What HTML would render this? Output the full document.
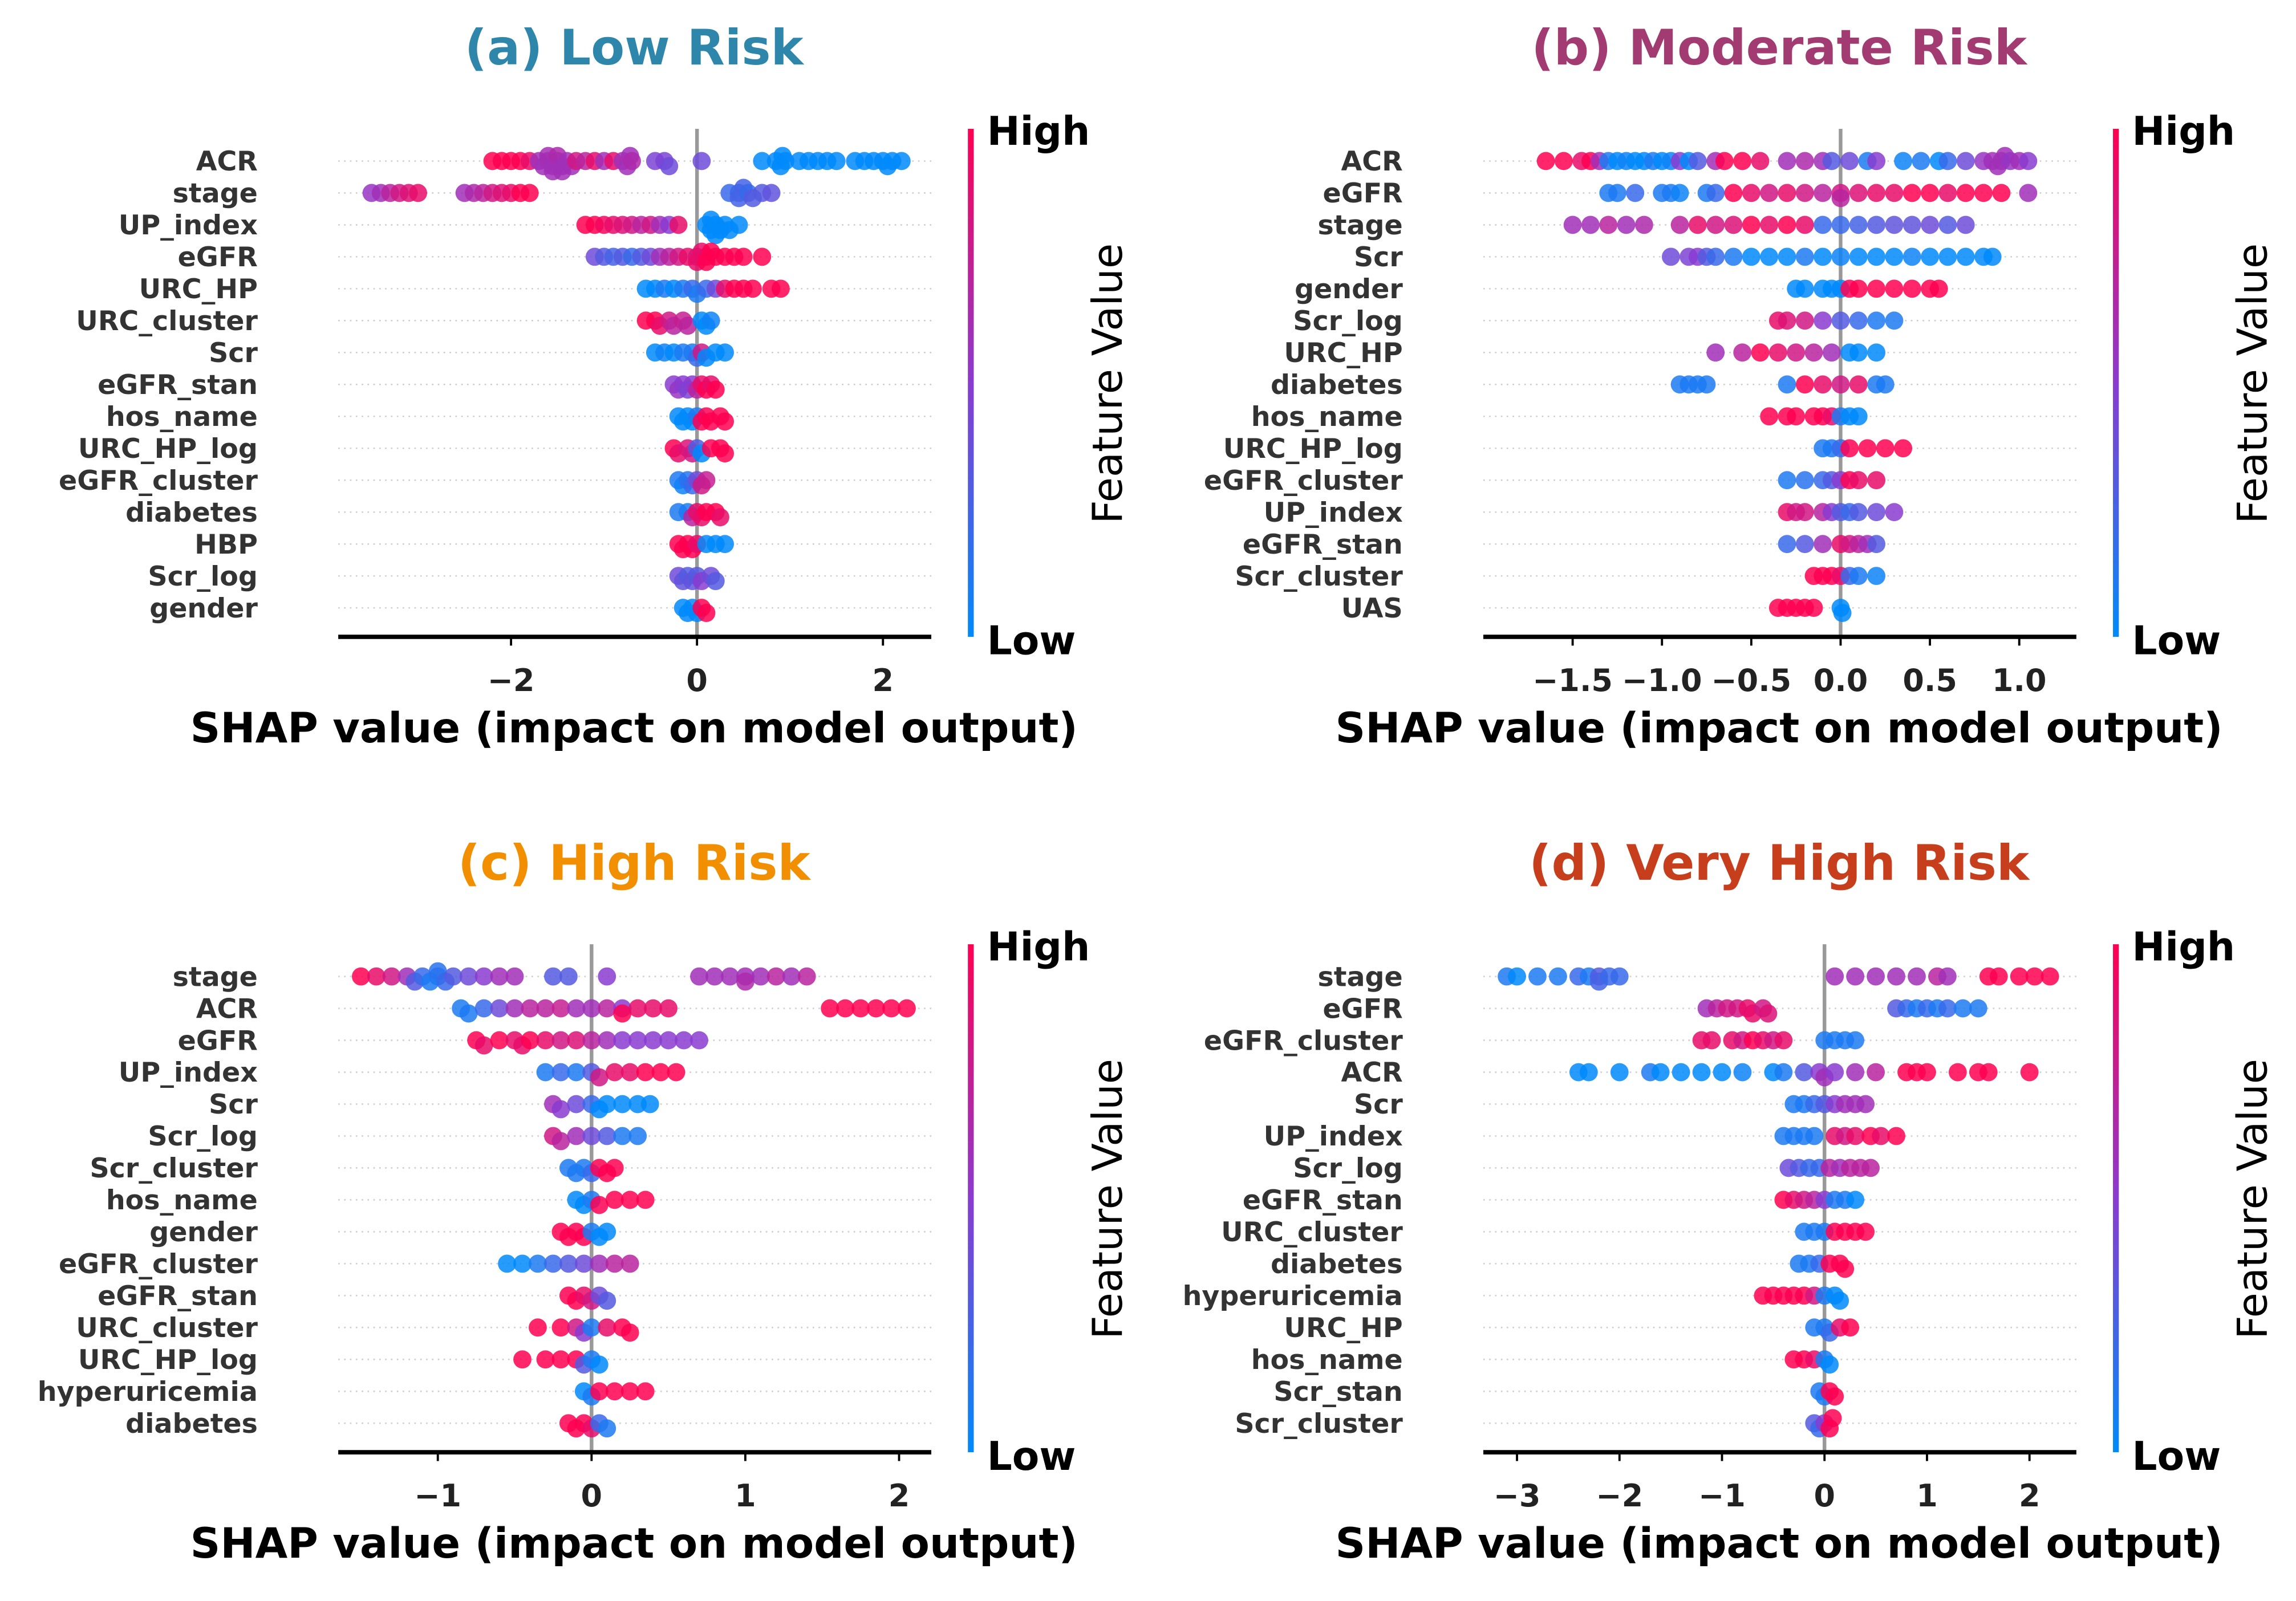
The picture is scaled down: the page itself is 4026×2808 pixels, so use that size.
<!DOCTYPE html>
<html><head><meta charset="utf-8">
<style>
html,body{margin:0;padding:0;background:#fff;}
svg{display:block;}
text{font-family:"DejaVu Sans","Liberation Sans",sans-serif;}
</style></head>
<body>
<svg id="fig" width="4026" height="2808" viewBox="0 0 1568 1093.6" xmlns="http://www.w3.org/2000/svg">
<defs>
<linearGradient id="cbar" x1="0" y1="1" x2="0" y2="0">
<stop offset="0" stop-color="#008afb"/><stop offset="0.5" stop-color="#8a3bd0"/><stop offset="1" stop-color="#ff0051"/>
</linearGradient>
</defs>
</svg>
<script>
// ---------- data ----------
const featuresA = ["ACR","stage","UP_index","eGFR","URC_HP","URC_cluster","Scr","eGFR_stan","hos_name","URC_HP_log","eGFR_cluster","diabetes","HBP","Scr_log","gender"];
const ticksA = [-2,0,2];
const pointsA = [
[[-2.2,1],[-2.1,1],[-2.0,1],[-1.9,1],[-1.8,0.9],[-1.7,0.6],[-1.65,0.6],[-1.6,0.6],[-1.6,0.62],[-1.55,0.6],[-1.55,0.6],[-1.5,0.6],[-1.5,0.65],[-1.45,0.6],[-1.45,0.6],[-1.4,0.6],[-1.35,0.6],[-1.3,0.8],[-1.2,0.7],[-1.1,0.9],[-1.0,0.6],[-0.9,0.9],[-0.8,0.6],[-0.75,0.6],[-0.7,0.65],[-0.72,0.6],[-0.45,0.45],[-0.35,0.45],[-0.3,0.4],[0.05,0.4],[0.7,0],[0.85,0],[0.9,0],[0.92,0],[0.95,0],[1.1,0],[1.2,0],[1.3,0],[1.4,0],[1.5,0],[1.7,0],[1.8,0],[1.9,0],[2.0,0],[2.05,0],[2.1,0],[2.2,0]],
[[-3.5,0.55],[-3.4,0.6],[-3.3,0.7],[-3.2,0.8],[-3.1,0.85],[-3.0,0.9],[-2.5,0.6],[-2.4,0.65],[-2.3,0.7],[-2.2,0.8],[-2.1,0.85],[-2.0,0.9],[-1.9,1],[-1.8,1],[0.35,0.2],[0.45,0.2],[0.45,0.25],[0.5,0.25],[0.55,0.2],[0.6,0.3],[0.7,0.3],[0.8,0.35]],
[[-1.2,1],[-1.1,1],[-1.0,0.95],[-0.9,0.9],[-0.8,0.85],[-0.7,0.8],[-0.6,0.7],[-0.5,0.8],[-0.4,0.6],[-0.3,0.5],[-0.2,0.9],[0.1,0],[0.15,0],[0.15,0],[0.2,0],[0.2,0],[0.25,0],[0.3,0],[0.35,0],[0.45,0]],
[[-1.1,0.4],[-1.0,0.3],[-0.9,0.25],[-0.8,0.3],[-0.7,0.2],[-0.6,0.3],[-0.5,0.4],[-0.4,0.6],[-0.3,0.7],[-0.2,0.8],[-0.1,0.9],[0,0.85],[0,0.9],[0.05,0.9],[0.1,0.9],[0.1,1],[0.15,1],[0.2,1],[0.3,1],[0.4,1],[0.5,1],[0.7,1]],
[[-0.55,0],[-0.45,0],[-0.35,0.1],[-0.25,0],[-0.15,0.1],[-0.05,0.2],[0,0.1],[0.1,0.2],[0.2,0.4],[0.3,0.9],[0.4,1],[0.5,1],[0.6,1],[0.8,1],[0.9,1]],
[[-0.55,1],[-0.45,1],[-0.4,0.9],[-0.3,0.8],[-0.25,0.7],[-0.15,0.75],[-0.1,0.7],[0.05,0],[0.1,0],[0.15,0.05]],
[[-0.45,0],[-0.35,0.05],[-0.25,0],[-0.15,0.1],[-0.05,0.1],[0.0,0.2],[0.05,0.8],[0.1,0],[0.2,0],[0.3,0]],
[[-0.25,0.5],[-0.2,0.55],[-0.15,0.5],[-0.1,0.45],[-0.05,0.5],[0,0.7],[0.05,0.9],[0.1,1],[0.15,0.9],[0.2,1]],
[[-0.2,0],[-0.15,0],[-0.1,0],[-0.05,0],[0,0.1],[0.05,1],[0.1,1],[0.15,1],[0.25,1],[0.3,1]],
[[-0.25,1],[-0.2,0.9],[-0.1,0.85],[-0.05,0.8],[0.0,0.3],[0.05,0],[0.15,1],[0.25,1],[0.3,1]],
[[-0.2,0.1],[-0.15,0.05],[-0.1,0.15],[-0.05,0.2],[0,0.4],[0.05,0.8],[0.1,0.75]],
[[-0.2,0.1],[-0.1,0.1],[-0.05,0.7],[0,0.9],[0.05,0.9],[0.1,1],[0.2,1],[0.25,0.9]],
[[-0.2,1],[-0.15,1],[-0.1,1],[-0.05,1],[0,0.9],[0.1,0],[0.2,0],[0.3,0]],
[[-0.2,0.4],[-0.15,0.35],[-0.1,0.3],[-0.05,0.35],[0,0.3],[0.05,0.5],[0.15,0.4],[0.2,0.3]],
[[-0.15,0],[-0.1,0],[-0.05,0],[0,0],[0.05,1],[0.1,1]]
];
const featuresB = ["ACR","eGFR","stage","Scr","gender","Scr_log","URC_HP","diabetes","hos_name","URC_HP_log","eGFR_cluster","UP_index","eGFR_stan","Scr_cluster","UAS"];
const ticksB = [-1.5,-1.0,-0.5,0.0,0.5,1.0];
const pointsB = [
[[-1.65,1],[-1.55,1],[-1.45,0.9],[-1.4,1],[-1.35,0.6],[-1.3,0.1],[-1.25,0],[-1.2,0.05],[-1.15,0],[-1.1,0],[-1.05,0.1],[-1.0,0],[-0.95,0.05],[-0.9,0.5],[-0.85,0],[-0.8,0.3],[-0.7,0.6],[-0.65,1],[-0.55,1],[-0.45,0.9],[-0.3,0.6],[-0.2,0.65],[-0.1,0.6],[-0.05,0.3],[0.05,0.4],[0.15,0.1],[0.2,0.5],[0.35,0.05],[0.45,0.1],[0.55,0],[0.6,0.2],[0.7,0.4],[0.8,0.55],[0.85,0.6],[0.88,0.6],[0.9,0.6],[0.92,0.6],[0.95,0.55],[1.0,0.6],[1.05,0.5]],
[[-1.3,0.1],[-1.25,0.1],[-1.15,0.2],[-1.0,0.1],[-0.95,0.1],[-0.9,0.05],[-0.75,0.1],[-0.7,0.2],[-0.6,1],[-0.5,0.9],[-0.4,0.8],[-0.3,0.9],[-0.2,0.8],[-0.1,0.7],[0,0.8],[0,0.7],[0.1,0.85],[0.2,0.9],[0.3,0.9],[0.4,1],[0.5,1],[0.6,0.9],[0.7,1],[0.8,1],[0.9,1],[1.05,0.6]],
[[-1.5,0.6],[-1.4,0.6],[-1.3,0.7],[-1.2,0.6],[-1.1,0.65],[-0.9,0.7],[-0.8,0.9],[-0.7,0.8],[-0.6,0.85],[-0.5,1],[-0.4,0.9],[-0.3,1],[-0.2,0.9],[-0.1,0.2],[0,0.2],[0.1,0.25],[0.2,0.3],[0.3,0.35],[0.4,0.35],[0.5,0.4],[0.6,0.3],[0.7,0.4]],
[[-0.95,0.4],[-0.85,0.45],[-0.8,0.5],[-0.75,0.3],[-0.7,0.2],[-0.6,0.1],[-0.5,0],[-0.4,0],[-0.3,0],[-0.2,0.1],[-0.1,0],[0,0.05],[0.1,0],[0.2,0],[0.3,0],[0.4,0.05],[0.5,0],[0.6,0],[0.7,0],[0.8,0],[0.85,0]],
[[-0.25,0],[-0.2,0],[-0.1,0],[-0.05,0],[0,0],[0.05,1],[0.1,1],[0.2,1],[0.3,1],[0.4,1],[0.5,1],[0.55,1]],
[[-0.35,0.9],[-0.3,0.85],[-0.2,0.8],[-0.1,0.5],[0,0.3],[0.1,0.2],[0.2,0.1],[0.3,0.1]],
[[-0.7,0.6],[-0.55,0.7],[-0.45,1],[-0.35,0.9],[-0.25,0.8],[-0.15,0.7],[-0.05,0.6],[0.05,0],[0.1,0],[0.2,0]],
[[-0.9,0.1],[-0.85,0.1],[-0.8,0.1],[-0.75,0.1],[-0.3,0.1],[-0.2,1],[-0.1,0.9],[0,0.8],[0.1,0.9],[0.2,0.1],[0.25,0.1]],
[[-0.4,1],[-0.3,1],[-0.25,1],[-0.15,1],[-0.1,1],[-0.05,0.9],[0,0.1],[0.05,0],[0.1,0]],
[[-0.1,0.1],[-0.05,0.1],[0,0.2],[0.05,1],[0.15,1],[0.25,1],[0.35,1]],
[[-0.3,0.1],[-0.2,0.15],[-0.1,0.2],[-0.05,0.3],[0,0.5],[0.05,1],[0.1,0.9],[0.2,0.9]],
[[-0.3,0.9],[-0.25,0.8],[-0.2,0.8],[-0.1,0.7],[-0.05,0.5],[0,0.3],[0.05,0.2],[0.1,0.3],[0.2,0.4],[0.3,0.5]],
[[-0.3,0.2],[-0.2,0.3],[-0.1,0.6],[0,0.9],[0.05,0.8],[0.1,0.7],[0.15,0.6],[0.2,0.3]],
[[-0.15,1],[-0.1,1],[-0.05,1],[0,0.9],[0.05,0.2],[0.1,0.1],[0.2,0.05]],
[[-0.35,1],[-0.3,1],[-0.25,1],[-0.2,1],[-0.15,1],[0,0],[0.01,0]]
];
const featuresC = ["stage","ACR","eGFR","UP_index","Scr","Scr_log","Scr_cluster","hos_name","gender","eGFR_cluster","eGFR_stan","URC_cluster","URC_HP_log","hyperuricemia","diabetes"];
const ticksC = [-1,0,1,2];
const pointsC = [
[[-1.5,1],[-1.4,0.9],[-1.3,0.8],[-1.2,0.6],[-1.15,0.3],[-1.1,0.2],[-1.05,0.1],[-1.0,0.1],[-1.0,0.15],[-0.95,0.2],[-0.9,0.3],[-0.8,0.4],[-0.7,0.5],[-0.6,0.6],[-0.5,0.6],[-0.25,0.3],[-0.15,0.3],[0.1,0.5],[0.7,0.6],[0.8,0.6],[0.9,0.6],[1.0,0.6],[1.0,0.65],[1.1,0.6],[1.2,0.7],[1.3,0.6],[1.4,0.7]],
[[-0.85,0.1],[-0.8,0.1],[-0.7,0.2],[-0.6,0.4],[-0.5,0.6],[-0.4,0.7],[-0.3,0.7],[-0.2,0.75],[-0.1,0.6],[0,0.6],[0.1,0.7],[0.2,0.5],[0.2,1],[0.3,0.9],[0.4,0.9],[0.5,0.9],[1.55,1],[1.65,1],[1.75,1],[1.85,1],[1.95,1],[2.05,1]],
[[-0.75,1],[-0.7,0.9],[-0.6,1],[-0.5,0.9],[-0.45,0.9],[-0.4,1],[-0.3,0.9],[-0.2,0.8],[-0.1,0.85],[0,0.7],[0.1,0.6],[0.2,0.5],[0.3,0.5],[0.4,0.5],[0.5,0.5],[0.6,0.5],[0.7,0.5]],
[[-0.3,0.1],[-0.2,0.2],[-0.1,0.1],[0,0.3],[0.05,0.8],[0.15,0.9],[0.25,0.9],[0.35,1],[0.45,1],[0.55,1]],
[[-0.25,0.6],[-0.2,0.5],[-0.1,0.4],[0,0.2],[0.05,0],[0.1,0],[0.2,0],[0.3,0],[0.38,0]],
[[-0.25,0.8],[-0.2,0.7],[-0.1,0.6],[0,0.4],[0.1,0.3],[0.2,0.1],[0.3,0.1]],
[[-0.15,0.1],[-0.1,0.1],[-0.05,0.1],[0,0.2],[0.05,1],[0.1,1],[0.15,1]],
[[-0.1,0],[-0.05,0],[0,0.1],[0.05,1],[0.15,1],[0.25,1],[0.35,1]],
[[-0.2,1],[-0.15,1],[-0.1,1],[-0.05,1],[0,0.1],[0.05,0],[0.1,0]],
[[-0.55,0],[-0.45,0],[-0.35,0.1],[-0.25,0.2],[-0.15,0.3],[-0.05,0.4],[0.05,0.6],[0.15,0.7],[0.25,0.7]],
[[-0.15,1],[-0.1,1],[-0.05,0.9],[0,0.8],[0.05,0.4],[0.1,0.3]],
[[-0.35,1],[-0.2,1],[-0.1,0.8],[-0.05,0.5],[0,0.1],[0.1,0.9],[0.2,1],[0.25,1]],
[[-0.45,1],[-0.3,1],[-0.2,1],[-0.1,1],[-0.05,0.3],[0,0.1],[0.05,0]],
[[-0.05,0],[0,0.1],[0.05,1],[0.15,1],[0.25,1],[0.35,1]],
[[-0.15,1],[-0.1,1],[-0.05,1],[0,0.9],[0.05,0.2],[0.1,0.1]]
];
const featuresD = ["stage","eGFR","eGFR_cluster","ACR","Scr","UP_index","Scr_log","eGFR_stan","URC_cluster","diabetes","hyperuricemia","URC_HP","hos_name","Scr_stan","Scr_cluster"];
const ticksD = [-3,-2,-1,0,1,2];
const pointsD = [
[[-3.1,0.1],[-3.0,0],[-2.8,0.1],[-2.6,0.1],[-2.4,0.2],[-2.3,0.1],[-2.2,0.3],[-2.2,0.25],[-2.1,0.2],[-2.0,0.2],[0.1,0.6],[0.3,0.6],[0.5,0.6],[0.7,0.6],[0.9,0.6],[1.1,0.7],[1.2,0.6],[1.6,1],[1.7,1],[1.9,1],[2.05,1],[2.2,1]],
[[-1.15,0.6],[-1.05,0.7],[-0.95,0.8],[-0.85,0.8],[-0.75,0.9],[-0.7,0.9],[-0.6,0.8],[-0.55,0.85],[0.7,0.3],[0.8,0.2],[0.9,0.1],[1.0,0.2],[1.1,0.1],[1.2,0.2],[1.35,0.1],[1.5,0.1]],
[[-1.2,0.9],[-1.1,0.9],[-0.9,0.9],[-0.8,0.8],[-0.7,1],[-0.6,0.9],[-0.5,0.8],[-0.4,0.9],[0,0.1],[0.1,0.1],[0.2,0.1],[0.3,0.1]],
[[-2.4,0],[-2.3,0],[-2.0,0],[-1.7,0.1],[-1.6,0],[-1.4,0],[-1.2,0],[-1.0,0],[-0.8,0.05],[-0.5,0],[-0.4,0.1],[-0.2,0.3],[-0.05,0.5],[0,0.6],[0.1,0.5],[0.3,0.6],[0.5,0.7],[0.8,1],[0.9,1],[1.0,1],[1.3,1],[1.5,1],[1.6,1],[2.0,1]],
[[-0.3,0.1],[-0.2,0.1],[-0.1,0.2],[0,0.3],[0.1,0.5],[0.2,0.6],[0.3,0.6],[0.4,0.6]],
[[-0.4,0.1],[-0.3,0.1],[-0.2,0.1],[-0.1,0.1],[0.1,0.9],[0.2,0.8],[0.3,0.9],[0.45,1],[0.55,0.9],[0.7,1]],
[[-0.35,0.4],[-0.25,0.3],[-0.15,0.2],[-0.05,0.2],[0.05,0.7],[0.15,0.6],[0.25,0.7],[0.35,0.7],[0.45,0.7]],
[[-0.4,1],[-0.3,0.9],[-0.2,0.8],[-0.1,0.7],[0,0.5],[0.1,0.1],[0.2,0.1],[0.3,0]],
[[-0.2,0.1],[-0.1,0.1],[0,0.1],[0.1,1],[0.2,1],[0.3,1],[0.4,1]],
[[-0.25,0.1],[-0.15,0.1],[-0.05,0.2],[0.05,1],[0.15,1],[0.2,1]],
[[-0.6,1],[-0.5,1],[-0.4,1],[-0.3,1],[-0.2,1],[-0.1,0.8],[0,0.1],[0.1,0],[0.15,0]],
[[-0.1,0.1],[0,0.1],[0.05,0.2],[0.15,0.9],[0.25,1]],
[[-0.3,1],[-0.2,1],[-0.1,0.9],[0,0.1],[0.05,0]],
[[-0.05,0.1],[0,0.1],[0.05,1],[0.1,1]],
[[-0.1,0.3],[-0.05,0.2],[0,0.5],[0.05,1],[0.08,1]]
];

// ---------- drawing ----------
const NS="http://www.w3.org/2000/svg";
const svg=document.getElementById('fig');
function mk(tag,attrs,parent){const e=document.createElementNS(NS,tag);for(const k in attrs)e.setAttribute(k,attrs[k]);(parent||svg).appendChild(e);return e;}
function col(c){
  const A=[0,138,251],M=[138,59,208],B=[255,0,81];
  let a,b,t; if(c<0.5){a=A;b=M;t=c/0.5;}else{a=M;b=B;t=(c-0.5)/0.5;}
  return 'rgb('+a.map((v,i)=>Math.round(v+(b[i]-v)*t)).join(',')+')';
}
const panels=[
 {key:'a',title:"(a) Low Risk",color:"#2e86ab",feat:featuresA,ticks:ticksA,pts:pointsA,dx:0,dy:0,zero:476,ppu:63.5,fmt:v=>v<0?'\u2212'+(-v):''+v},
 {key:'b',title:"(b) Moderate Risk",color:"#a23b72",feat:featuresB,ticks:ticksB,pts:pointsB,dx:782,dy:0,zero:1257,ppu:122,fmt:v=>(v<0?'\u2212':'')+Math.abs(v).toFixed(1)},
 {key:'c',title:"(c) High Risk",color:"#f18f01",feat:featuresC,ticks:ticksC,pts:pointsC,dx:0,dy:557,zero:404,ppu:105,fmt:v=>v<0?'\u2212'+(-v):''+v},
 {key:'d',title:"(d) Very High Risk",color:"#c73e1d",feat:featuresD,ticks:ticksD,pts:pointsD,dx:782,dy:557,zero:1246,ppu:70,fmt:v=>v<0?'\u2212'+(-v):''+v}
];
panels.forEach(p=>{
  const g=mk('g',{});
  
  
  const x0=231+p.dx,x1=636+p.dx,axY=435+p.dy;
  const xs=v=>p.zero+v*p.ppu;
  const ys=i=>110+p.dy+i*21.8;
  const t=mk('text',{x:433+p.dx,y:44+p.dy,'text-anchor':'middle','font-size':33.5,'font-weight':'bold',fill:p.color},g);
  t.textContent=p.title;
  
  
  p.feat.forEach((f,i)=>{
    const l=mk('line',{x1:x0,x2:x1,y1:ys(i),y2:ys(i),stroke:'#ccc','stroke-width':1,'stroke-dasharray':'1,3'},g);
    
    
    const tx=mk('text',{x:176+p.dx,y:ys(i)+6.5,'text-anchor':'end','font-size':18.5,'font-weight':'bold',fill:'#333'},g);
    tx.textContent=f;
    
    
  });
  const z=mk('line',{x1:xs(0),x2:xs(0),y1:88+p.dy,y2:axY,stroke:'#999','stroke-width':2.5},g);
  
  
  p.pts.forEach((row,i)=>{
    const sorted=row.slice().sort((a,b)=>a[0]-b[0]);
    const placed=[];
    sorted.forEach(pt=>{
      const px=xs(pt[0]);
      let off=0;
      const cands=[0,3.5,-3.5,7,-7,10,-10];
      for(const c of cands){off=c;if(!placed.some(q=>Math.abs(q[0]-px)<6&&Math.abs(q[1]-c)<3))break;}
      placed.push([px,off]);
      const d=mk('circle',{cx:px,cy:ys(i)+off,r:6.2,fill:col(pt[1]),'fill-opacity':0.85},g);
      
      
    });
  });
  const ax=mk('line',{x1:x0,x2:x1,y1:axY,y2:axY,stroke:'#000','stroke-width':3},g);
  
  
  p.ticks.forEach(v=>{
    const tk=mk('line',{x1:xs(v),x2:xs(v),y1:axY,y2:axY+6,stroke:'#000','stroke-width':1.5},g);
    
    
    const tl=mk('text',{x:xs(v),y:axY+37,'text-anchor':'middle','font-size':21,'font-weight':'bold',fill:'#222'},g);
    tl.textContent=p.fmt(v);
    
    
  });
  const xl=mk('text',{x:433+p.dx,y:axY+72,'text-anchor':'middle','font-size':28.5,'font-weight':'bold',fill:'#000'},g);
  xl.textContent="SHAP value (impact on model output)";
  
  
  const cb=mk('rect',{x:661+p.dx,y:88+p.dy,width:4,height:347,fill:'url(#cbar)'},g);
  
  
  const hi=mk('text',{x:674+p.dx,y:99+p.dy,'font-size':27,'font-weight':'bold',fill:'#000'},g);
  hi.textContent="High";
  
  
  const lo=mk('text',{x:674+p.dx,y:447+p.dy,'font-size':27,'font-weight':'bold',fill:'#000'},g);
  lo.textContent="Low";
  
  
  const fv=mk('text',{x:0,y:0,'text-anchor':'middle','font-size':28,fill:'#000',transform:'translate('+(766+p.dx)+','+(262+p.dy)+') rotate(-90)'},g);
  fv.textContent="Feature Value";
  
  
});
</script>
</body></html>
